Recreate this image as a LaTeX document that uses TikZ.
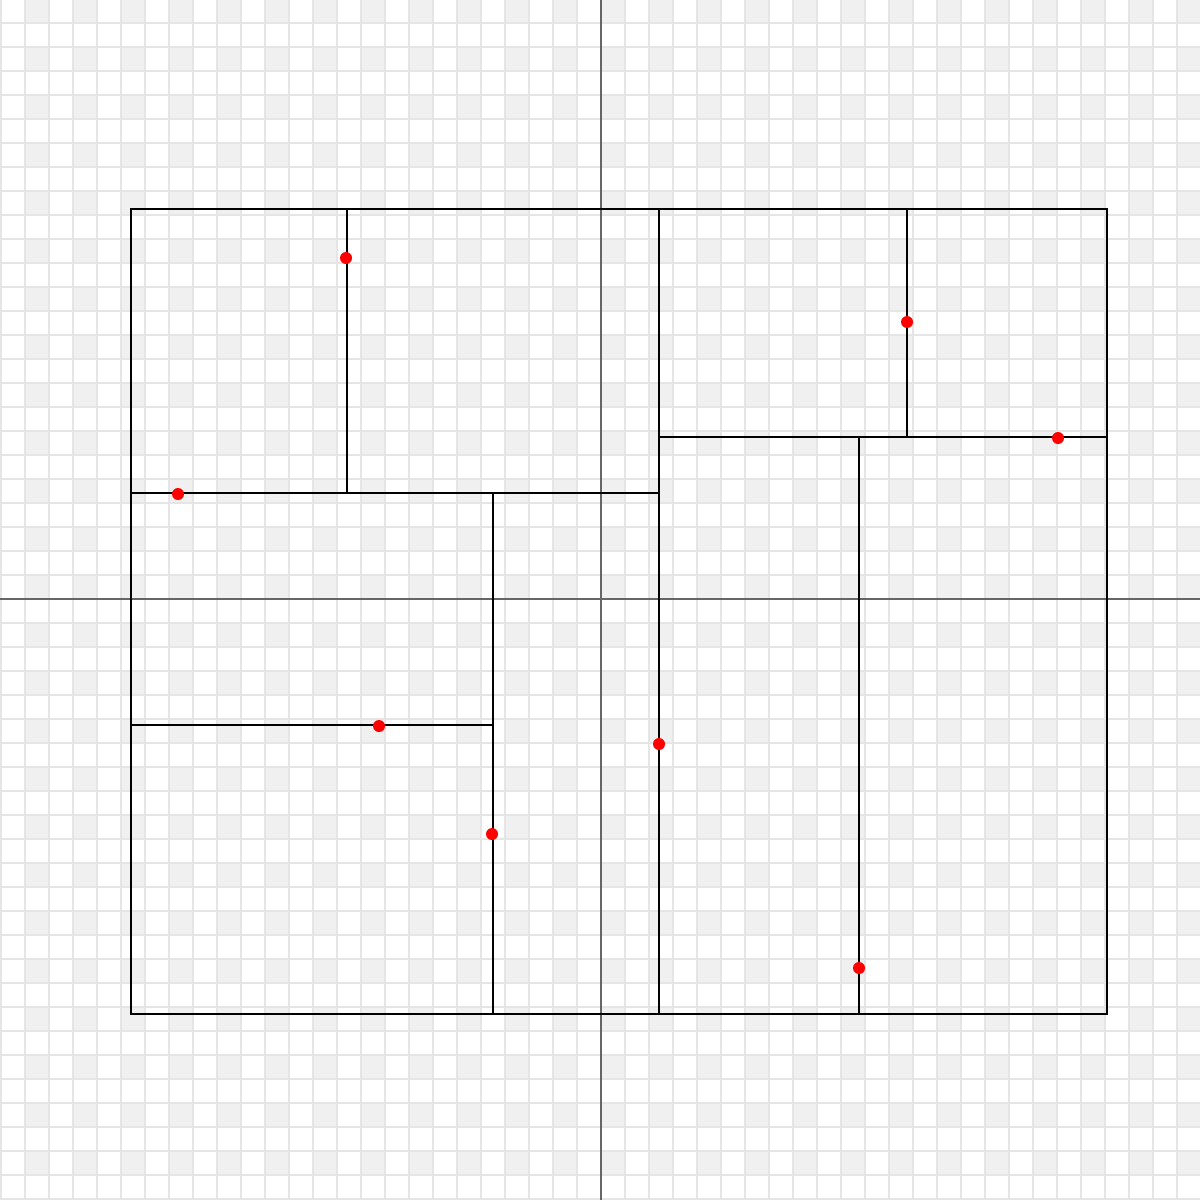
\documentclass[tikz,border=0pt]{standalone}
\definecolor{gridline}{HTML}{E5E5E5}
\definecolor{cellfill}{HTML}{F0F0F0}
\definecolor{axisc}{HTML}{666666}
\definecolor{dotred}{HTML}{FF0000}
\tikzset{
  gridln/.style={draw=gridline, line width=0.6pt},
  axisln/.style={draw=axisc, line width=0.5pt},
  wall/.style={draw=black, line width=0.65pt, line cap=rect},
  pt/.style={fill=dotred, draw=none}
}
\begin{document}
\begin{tikzpicture}[x=0.01cm, y=-0.01cm]
\useasboundingbox (0,0) rectangle (1200,1200);
\begin{scope}
\clip (0,0) rectangle (1200,1200);
\fill[white] (0,0) rectangle (1200,1200);
\foreach \i in {-1,...,24}{
  \foreach \j in {0,...,25}{
    \fill[cellfill] ({25+48*\i},{-1+48*\j}) rectangle ++(24,24);
  }
}
\foreach \k in {0,...,50}{
  \draw[gridln] ({1+24*\k},0) -- ({1+24*\k},1200);
  \draw[gridln] (0,{-1+24*\k}) -- (1200,{-1+24*\k});
}
\draw[axisln] (601,0) -- (601,1200);
\draw[axisln] (0,599) -- (1200,599);
\end{scope}
% walls
\draw[wall] (131,209) rectangle (1107,1014);
\draw[wall] (347,209) -- (347,493);
\draw[wall] (659,209) -- (659,1014);
\draw[wall] (131,493) -- (659,493);
\draw[wall] (493,493) -- (493,1014);
\draw[wall] (131,725) -- (493,725);
\draw[wall] (659,437) -- (1107,437);
\draw[wall] (907,209) -- (907,437);
\draw[wall] (859,437) -- (859,1014);
% points
\foreach \x/\y in {346/258, 907/322, 1058/438, 178/494, 379/726, 492/834, 659/744, 859/968}{
  \fill[pt] (\x,\y) circle (6);
}
\end{tikzpicture}
\end{document}
